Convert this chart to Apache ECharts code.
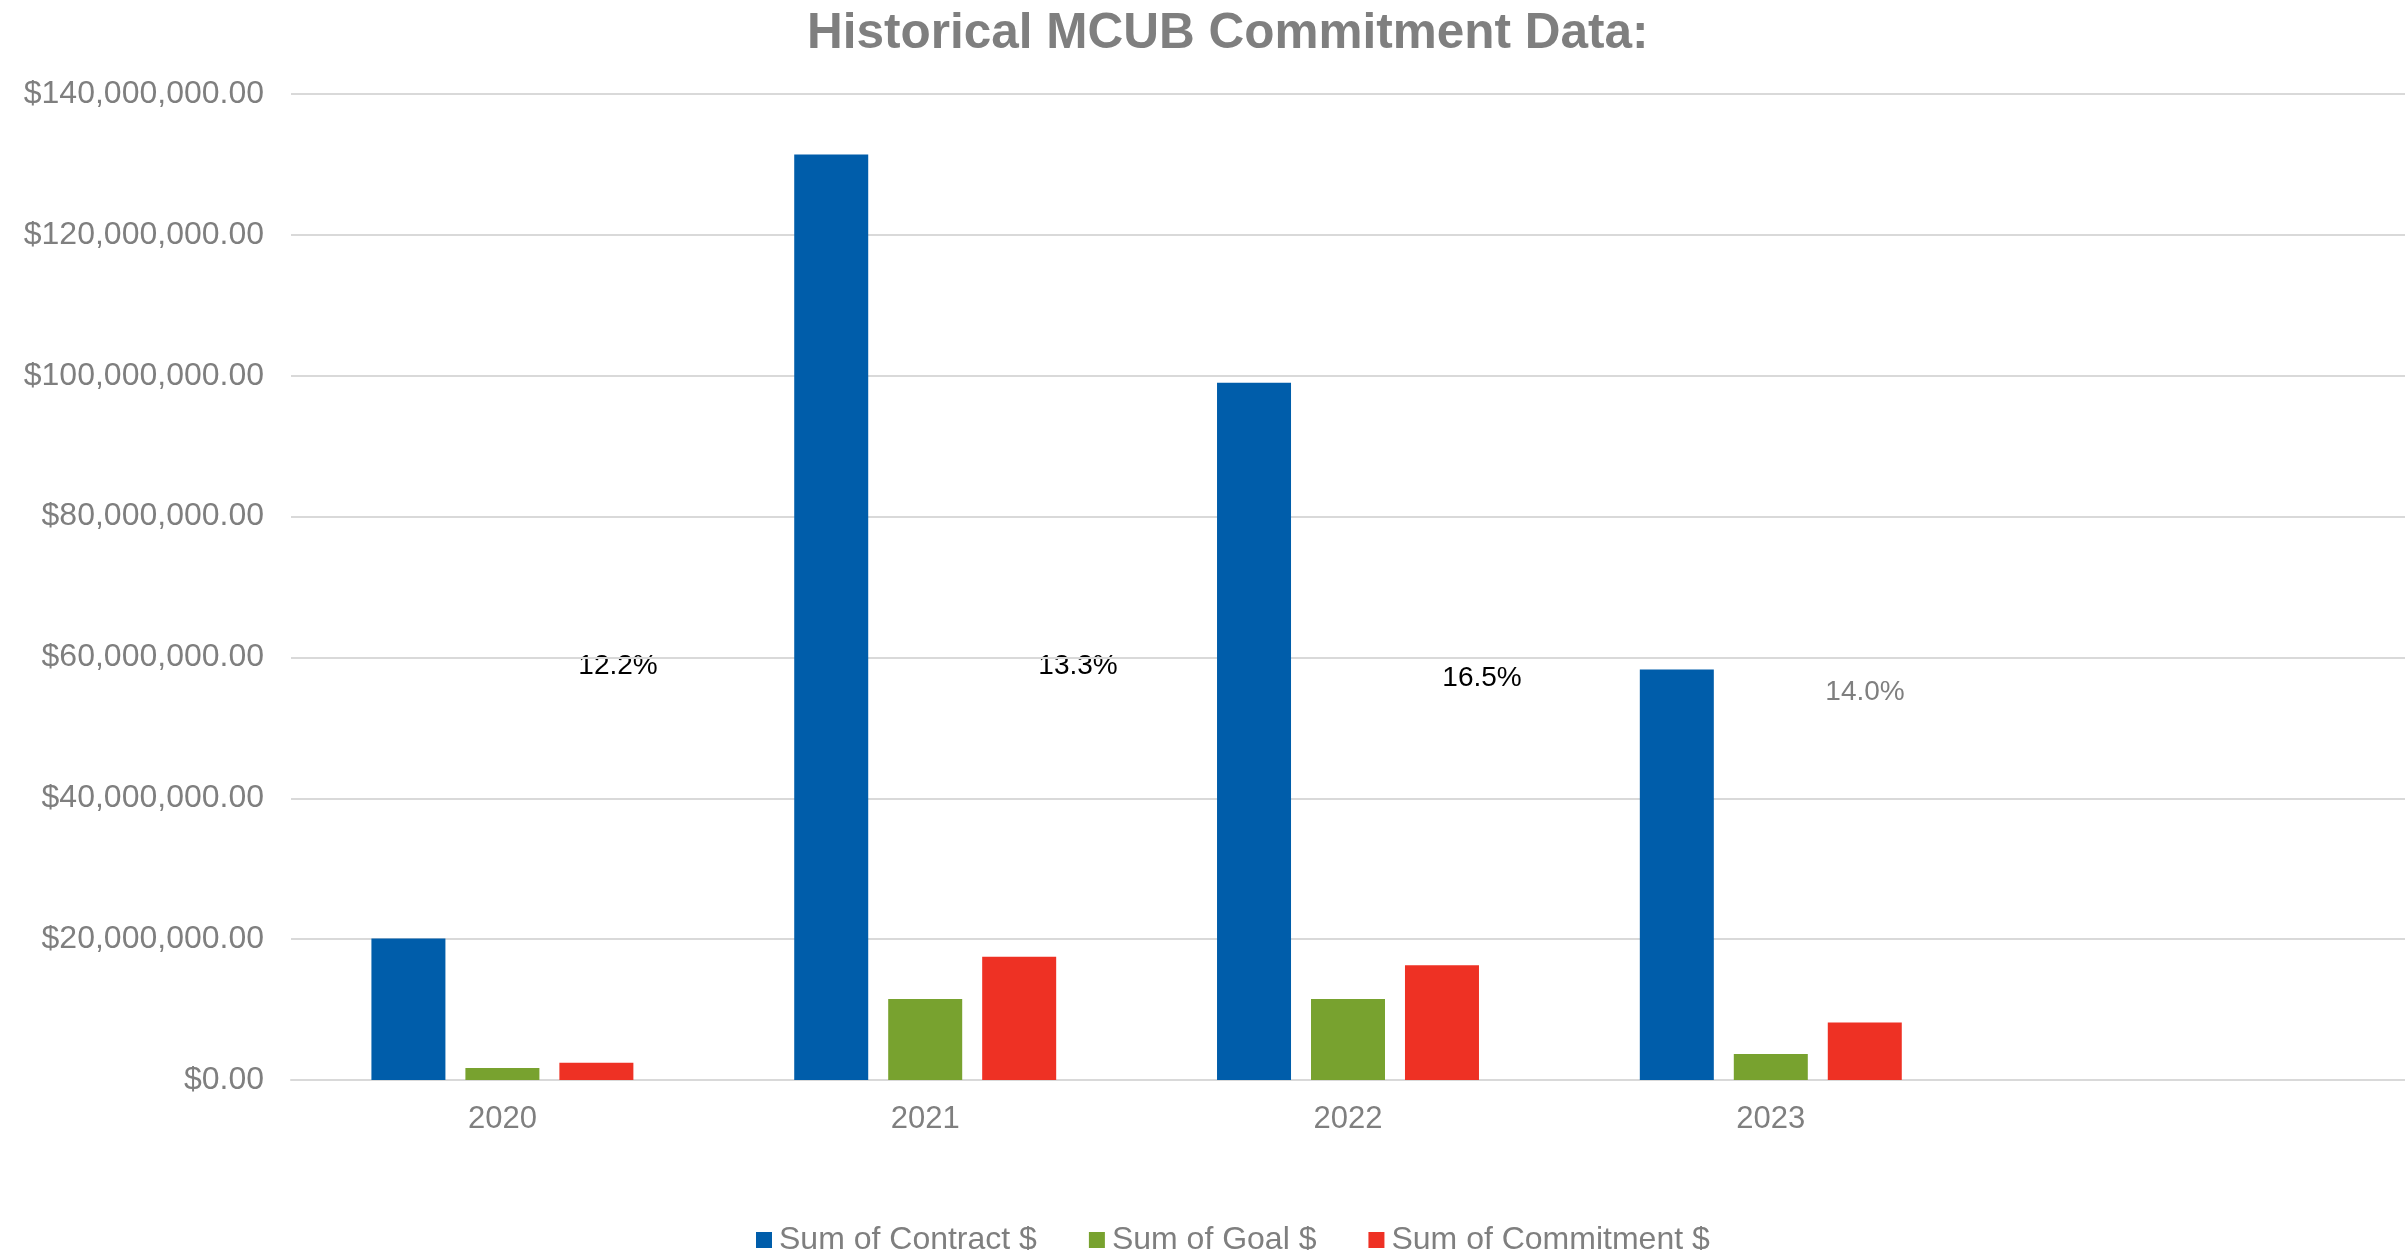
<!DOCTYPE html>
<html>
<head>
<meta charset="utf-8">
<script src="https://cdn.jsdelivr.net/npm/echarts@6/dist/echarts.min.js"></script>
<style>
  html, body { margin: 0; padding: 0; background: #fff; }
  #chart { width: 2405px; height: 1250px; }
</style>
</head>
<body>
<div id="chart"></div>
<script>
// categories (last slot is empty in the original sheet)
const years = ['2020', '2021', '2022', '2023', ''];

// series values
const contract = [20100000, 131400000, 99000000, 58300000, null];
const goal = [1700000, 11500000, 11500000, 3700000, null];
const commitment = [2450000, 17500000, 16300000, 8150000, null];

// percentage notes floating over the plot
const pctLabels = ['12.2%', '13.3%', '16.5%', '14.0%'];

const GREY = '#7f7f7f';
const FONT = '"Liberation Sans", Arial, sans-serif';

const chart = echarts.init(document.getElementById('chart'));

function money(v) {
  return '$' + v.toLocaleString('en-US', { minimumFractionDigits: 2, maximumFractionDigits: 2 });
}

// text boxes placed by hand in the source
const notePos = [
  [618, 666, '#000'],
  [1078, 666, '#000'],
  [1482, 678, '#000'],
  [1865, 692, GREY]
];

const options = {
  animation: false,
  textStyle: { fontFamily: FONT },
  title: {
    text: 'Historical MCUB Commitment Data:',
    left: 802,
    top: 4,
    textStyle: { color: GREY, fontSize: 49.5, fontWeight: 'bold', fontFamily: FONT }
  },
  legend: {
    left: 751,
    top: 1219,
    itemWidth: 16,
    itemHeight: 16,
    itemGap: 52,
    icon: 'rect',
    textStyle: { color: GREY, fontSize: 32, fontFamily: FONT, padding: [0, 0, 0, 2] },
    data: ['Sum of Contract $', 'Sum of Goal $', 'Sum of Commitment $']
  },
  grid: {
    left: 291,
    right: 0,
    top: 94,
    bottom: 170,
    containLabel: false
  },
  xAxis: {
    type: 'category',
    data: years,
    axisTick: { show: false },
    axisLine: { lineStyle: { color: '#d9d9d9', width: 2 } },
    axisLabel: { color: GREY, fontSize: 31, margin: 24, fontFamily: FONT }
  },
  yAxis: {
    type: 'value',
    min: 0,
    max: 140000000,
    interval: 20000000,
    axisLine: { show: false },
    axisTick: { show: false },
    splitLine: { lineStyle: { color: '#d9d9d9', width: 2 } },
    axisLabel: { color: GREY, fontSize: 32, margin: 27, fontFamily: FONT, formatter: money }
  },
  graphic: pctLabels.map((t, i) => ({
    type: 'text',
    x: notePos[i][0],
    y: notePos[i][1],
    style: {
      text: t,
      fill: notePos[i][2],
      font: '28px ' + FONT,
      textAlign: 'center',
      textVerticalAlign: 'middle'
    }
  })),
  series: [
    {
      name: 'Sum of Contract $',
      type: 'bar',
      data: contract,
      barWidth: 74,
      barGap: '27%',
      itemStyle: { color: '#005daa' }
    },
    {
      name: 'Sum of Goal $',
      type: 'bar',
      data: goal,
      barWidth: 74,
      barGap: '27%',
      itemStyle: { color: '#78a22f' }
    },
    {
      name: 'Sum of Commitment $',
      type: 'bar',
      data: commitment,
      barWidth: 74,
      barGap: '27%',
      itemStyle: { color: '#ee3124' }
    }
  ]
};

chart.setOption(options);
</script>
</body>
</html>
